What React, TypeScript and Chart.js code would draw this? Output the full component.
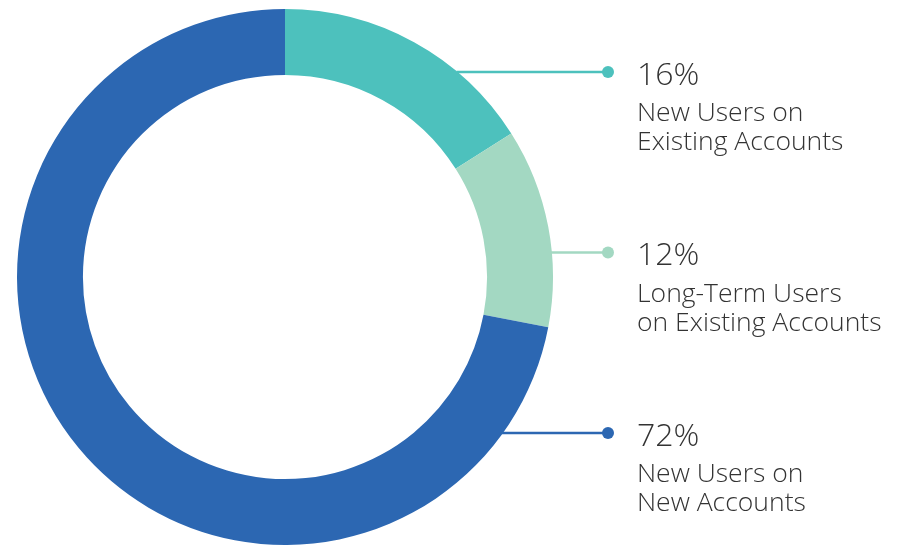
import React, { useEffect, useRef } from "react";
import { Chart, registerables } from "chart.js";

Chart.register(...registerables);

const categories = [
  ["New Users on", "Existing Accounts"],
  ["Long-Term Users", "on Existing Accounts"],
  ["New Users on", "New Accounts"],
];
const values = [16, 12, 72];
const colors = ["#4DC1BD", "#A3D8C2", "#2C67B2"];
const leaderYs = [72, 252.5, 433];

const labelPlugin = {
  id: "sideLabels",
  afterDraw(chart: any) {
    const ctx = chart.ctx;
    const meta = chart.getDatasetMeta(0);
    const arc = meta.data[0];
    const cx = arc.x;
    const cy = arc.y;
    const r = arc.outerRadius;
    const dotX = 608;
    const textX = 637;
    ctx.save();
    values.forEach((v, i) => {
      const y = leaderYs[i];
      const dy = y - cy;
      const startX = cx + Math.sqrt(Math.max(0, r * r - dy * dy)) - 1;
      ctx.strokeStyle = colors[i];
      ctx.lineWidth = 2.5;
      ctx.beginPath();
      ctx.moveTo(startX, y);
      ctx.lineTo(dotX, y);
      ctx.stroke();
      ctx.fillStyle = colors[i];
      ctx.beginPath();
      ctx.arc(dotX, y, 6, 0, Math.PI * 2);
      ctx.fill();
      ctx.fillStyle = "#333333";
      ctx.textAlign = "left";
      ctx.textBaseline = "alphabetic";
      ctx.font = "300 32px 'Open Sans'";
      ctx.fillText(v + "%", textX, y + 12.5);
      ctx.font = "300 26.5px 'Open Sans'";
      categories[i].forEach((line, j) => {
        ctx.fillText(line, textX, y + 49 + j * 29);
      });
    });
    ctx.restore();
  },
};

export default function App() {
  const ref = useRef<HTMLCanvasElement>(null);
  useEffect(() => {
    if (!ref.current) return;
    const chart = new Chart(ref.current, {
      type: "doughnut",
      data: {
        labels: categories.map((c) => c.join(" ")),
        datasets: [
          {
            data: values,
            backgroundColor: colors,
            borderWidth: 0,
          },
        ],
      },
      options: {
        animation: false,
        responsive: false,
        maintainAspectRatio: false,
        cutout: "75.4%",
        layout: { padding: { left: 17, right: 348, top: 9, bottom: 0 } },
        plugins: { legend: { display: false }, tooltip: { enabled: false } },
      },
      plugins: [labelPlugin],
    });
    return () => chart.destroy();
  }, []);
  return (
    <div style={{ position: "fixed", left: 0, top: 0, width: 901, height: 545, background: "#fff" }}>
      <canvas ref={ref} width={901} height={545} style={{ width: 901, height: 545 }} />
    </div>
  );
}
